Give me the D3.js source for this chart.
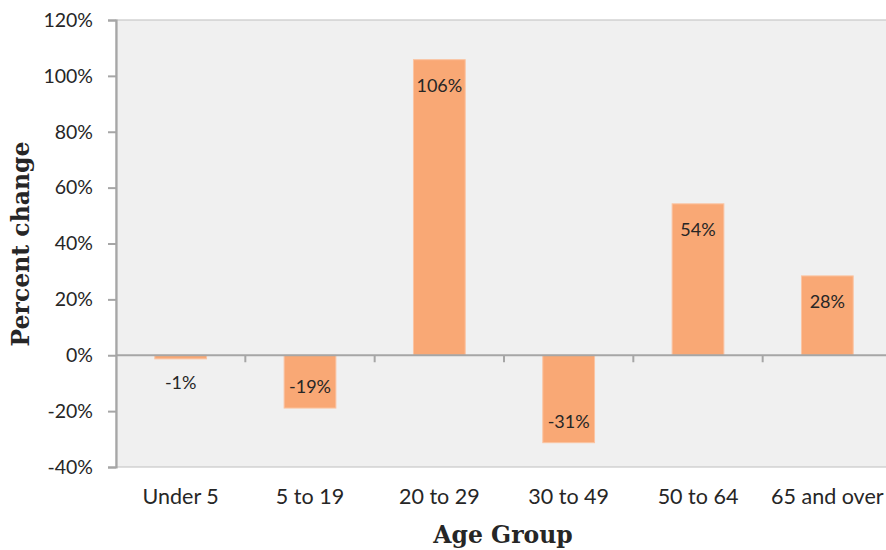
<!DOCTYPE html>
<html>
<head>
<meta charset="utf-8">
<script src="https://cdn.jsdelivr.net/npm/d3@7"></script>
<style>
  html, body { margin: 0; padding: 0; background: #ffffff; }
  svg { display: block; }
</style>
</head>
<body>
<svg id="chart" width="886" height="550"></svg>
<script>
const categories = ["Under 5", "5 to 19", "20 to 29", "30 to 49", "50 to 64", "65 and over"];
const values = [-1.3, -18.9, 105.8, -31.3, 54.2, 28.4];
const yTicks = [-40, -20, 0, 20, 40, 60, 80, 100, 120];
const xTitle = "Age Group";
const yTitle = "Percent change";

(function () {
const svg = d3.select("#chart");
const mLeft = 116, mRight = 892, mTop = 20, mBottom = 467;
const textColor = "#262626";
const axisColor = "#a6a6a6";
const sans = "'Gill Sans', 'Gill Sans MT', Lato, 'Open Sans', sans-serif";
const serif = "'Bookman Old Style', 'DejaVu Serif', serif";

const x = d3.scaleBand().domain(categories).range([mLeft, mRight]).paddingInner(0.6).paddingOuter(0.3);
const y = d3.scaleLinear().domain([-40, 120]).range([mBottom, mTop]);

// plot area
svg.append("rect")
  .attr("x", mLeft).attr("y", mTop)
  .attr("width", mRight - mLeft).attr("height", mBottom - mTop)
  .attr("fill", "#f0f0f0")
  .attr("stroke", "#c8c8c8").attr("stroke-width", 1.2);

// bars
svg.append("g").selectAll("rect").data(values).join("rect")
  .attr("x", (d, i) => x(categories[i]))
  .attr("width", x.bandwidth())
  .attr("y", d => y(Math.max(0, d)))
  .attr("height", d => Math.abs(y(d) - y(0)))
  .attr("fill", "#f9a875")
  .attr("stroke", "#fbc4a2").attr("stroke-width", 1);

// zero line + category separator ticks
const step = x.step();
svg.append("line")
  .attr("x1", mLeft).attr("x2", mRight)
  .attr("y1", y(0)).attr("y2", y(0))
  .attr("stroke", axisColor).attr("stroke-width", 2.2);
svg.append("g").selectAll("line").data(d3.range(1, categories.length)).join("line")
  .attr("x1", i => mLeft + i * step).attr("x2", i => mLeft + i * step)
  .attr("y1", y(0)).attr("y2", y(0) + 7)
  .attr("stroke", axisColor).attr("stroke-width", 2);

// y axis
const yAxis = d3.axisLeft(y).tickValues(yTicks).tickFormat(d => d + "%").tickSize(8).tickPadding(15);
const gy = svg.append("g").attr("transform", `translate(${mLeft},0)`).call(yAxis);
gy.select(".domain").attr("stroke", axisColor).attr("stroke-width", 2.2);
gy.selectAll(".tick line").attr("stroke", axisColor).attr("stroke-width", 2);
gy.selectAll(".tick text")
  .attr("fill", textColor)
  .style("font-family", sans).style("font-size", "19.5px");

// category labels
svg.append("g").selectAll("text").data(categories).join("text")
  .attr("x", d => x(d) + x.bandwidth() / 2)
  .attr("y", 503.5)
  .attr("text-anchor", "middle")
  .attr("fill", textColor)
  .style("font-family", sans).style("font-size", "21.5px")
  .text(d => d);

// data labels
svg.append("g").selectAll("text").data(values).join("text")
  .attr("x", (d, i) => x(categories[i]) + x.bandwidth() / 2)
  .attr("y", d => {
    if (d >= 0) return y(d) + 25;
    const h = y(d) - y(0);
    return h > 30 ? y(d) - 22 : y(d) + 23;
  })
  .attr("dominant-baseline", "central")
  .attr("text-anchor", "middle")
  .attr("fill", textColor)
  .style("font-family", sans).style("font-size", "18px")
  .text(d => Math.round(d) + "%");

// axis titles
svg.append("text")
  .attr("x", 503).attr("y", 543)
  .attr("text-anchor", "middle")
  .attr("fill", textColor)
  .style("font-family", serif).style("font-weight", "bold").style("font-size", "23.5px")
  .text(xTitle);

svg.append("text")
  .attr("transform", `translate(29,244) rotate(-90)`)
  .attr("text-anchor", "middle")
  .attr("fill", textColor)
  .style("font-family", serif).style("font-weight", "bold").style("font-size", "23.5px")
  .text(yTitle);
})();
</script>
</body>
</html>
